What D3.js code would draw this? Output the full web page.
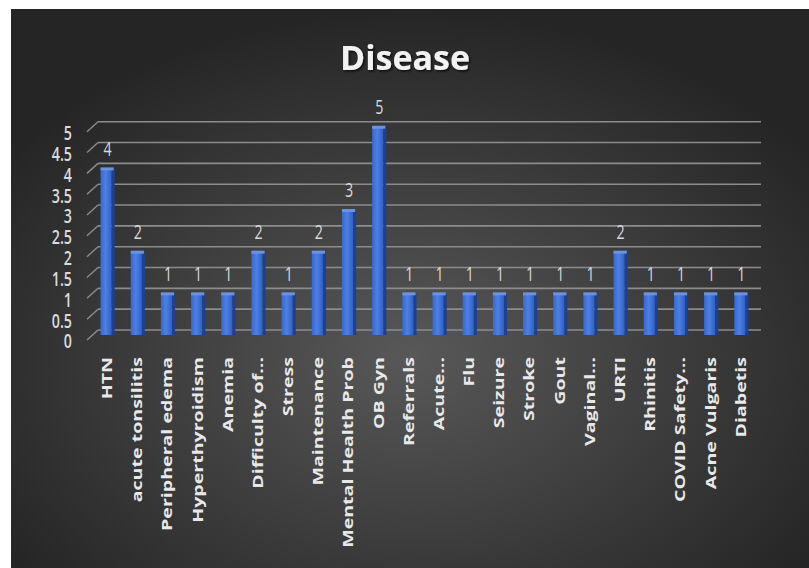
<!DOCTYPE html>
<html>
<head>
<meta charset="utf-8">
<script src="https://cdn.jsdelivr.net/npm/d3@7"></script>
<style>
  body { margin: 0; background: #fff; }
  svg { display: block; }
</style>
</head>
<body>
<svg id="chart"></svg>
<script>
const categories = ['HTN', 'acute tonsilitis', 'Peripheral edema', 'Hyperthyroidism', 'Anemia',
    'Difficulty of…', 'Stress', 'Maintenance', 'Mental Health Prob', 'OB Gyn', 'Referrals',
    'Acute…', 'Flu', 'Seizure', 'Stroke', 'Gout', 'Vaginal…', 'URTI', 'Rhinitis',
    'COVID Safety…', 'Acne Vulgaris', 'Diabetis']
const counts = [4, 2, 1, 1, 1, 2, 1, 2, 3, 5, 1, 1, 1, 1, 1, 1, 1, 2, 1, 1, 1, 1]
const yTicks = [0, 0.5, 1, 1.5, 2, 2.5, 3, 3.5, 4, 4.5, 5]
const title = 'Disease'

const svgWidth = 809
const svgHeight = 568
const depth = { dx: 11, dy: 10 }

const svg = d3.select('#chart')
    .attr('width', svgWidth)
    .attr('height', svgHeight)

const defs = svg.append('defs')

const bg = defs.append('radialGradient')
    .attr('id', 'bg')
    .attr('cx', '50%').attr('cy', '62%').attr('r', '62%')
bg.append('stop').attr('offset', '0%').attr('stop-color', '#585858')
bg.append('stop').attr('offset', '100%').attr('stop-color', '#252525')

const barFront = defs.append('linearGradient')
    .attr('id', 'barFront')
    .attr('x1', '0%').attr('x2', '100%')
barFront.append('stop').attr('offset', '0%').attr('stop-color', '#3668d0')
barFront.append('stop').attr('offset', '45%').attr('stop-color', '#4d80e4')
barFront.append('stop').attr('offset', '100%').attr('stop-color', '#2f5fc4')

const shadow = defs.append('filter').attr('id', 'shadow')
shadow.append('feDropShadow')
    .attr('dx', 1.5).attr('dy', 1.5).attr('stdDeviation', 1.2)
    .attr('flood-color', '#000').attr('flood-opacity', 0.7)

svg.append('rect')
    .attr('x', 11).attr('y', 9)
    .attr('width', svgWidth - 11).attr('height', svgHeight - 9)
    .attr('fill', 'url(#bg)')

// back wall scale (gridlines) and bar scale sit at different depths
const yBack = d3.scaleLinear().domain([0, 5]).range([330, 121.7])
const yBar = d3.scaleLinear().domain([0, 5]).range([335, 126.7])

const x = d3.scaleBand()
    .domain(categories)
    .range([93, 756])
    .paddingInner(0.53)
    .paddingOuter(0.25)

const grid = svg.append('g')
grid.selectAll('line.h')
    .data(yTicks)
    .join('line')
    .attr('class', 'h')
    .attr('x1', 98).attr('x2', 761)
    .attr('y1', d => yBack(d)).attr('y2', d => yBack(d))
    .attr('stroke', '#8c8c8c')
    .attr('stroke-width', 1.6)
grid.selectAll('line.d')
    .data(yTicks)
    .join('line')
    .attr('class', 'd')
    .attr('x1', 98 - depth.dx).attr('x2', 98)
    .attr('y1', d => yBack(d) + depth.dy).attr('y2', d => yBack(d))
    .attr('stroke', '#8c8c8c')
    .attr('stroke-width', 1.4)

const numFont = '"Open Sans", sans-serif'

svg.append('g')
    .selectAll('text')
    .data(yTicks)
    .join('text')
    .attr('transform', d => `translate(72, ${yBack(d) + depth.dy + 1}) scale(0.95, 1.3)`)
    .attr('text-anchor', 'end')
    .attr('dominant-baseline', 'central')
    .attr('fill', '#dadada')
    .style('font-family', numFont)
    .style('font-weight', 600)
    .style('font-size', '15px')
    .text(d => d)

const data = categories.map((c, i) => ({ name: c, value: counts[i] }))
const side = 3
const bars = svg.append('g')
    .selectAll('g')
    .data(data)
    .join('g')
    .attr('transform', d => `translate(${x(d.name)}, 0)`)

bars.append('rect')
    .attr('x', 0)
    .attr('y', d => yBar(d.value))
    .attr('width', x.bandwidth() - side)
    .attr('height', d => yBar(0) - yBar(d.value))
    .attr('fill', 'url(#barFront)')
bars.append('rect')
    .attr('x', x.bandwidth() - side)
    .attr('y', d => yBar(d.value) + 1)
    .attr('width', side)
    .attr('height', d => yBar(0) - yBar(d.value) - 1)
    .attr('fill', '#1e418f')
bars.append('rect')
    .attr('x', 0)
    .attr('y', d => yBar(d.value) - 1)
    .attr('width', x.bandwidth() - 1)
    .attr('height', 3)
    .attr('fill', '#6b93e3')

svg.append('g')
    .selectAll('text')
    .data(data)
    .join('text')
    .attr('transform', d => `translate(${x(d.name) + x.bandwidth() / 2}, ${yBar(d.value) - 20}) scale(0.95, 1.3)`)
    .attr('text-anchor', 'middle')
    .attr('dominant-baseline', 'central')
    .attr('fill', '#d9d9d9')
    .style('font-family', numFont)
    .style('font-size', '15px')
    .text(d => d.value)

svg.append('g')
    .selectAll('text')
    .data(data)
    .join('text')
    .attr('transform', d => `translate(${x(d.name) + x.bandwidth() / 2 - 1}, 357) rotate(-90) scale(1.4, 1)`)
    .attr('text-anchor', 'end')
    .attr('dominant-baseline', 'central')
    .attr('fill', '#e8e8e8')
    .style('font-family', '"Open Sans", sans-serif')
    .style('font-weight', 700)
    .style('font-size', '14px')
    .text(d => d.name)

svg.append('text')
    .attr('x', 405)
    .attr('y', 70)
    .attr('text-anchor', 'middle')
    .attr('fill', '#f2f2f2')
    .attr('filter', 'url(#shadow)')
    .style('font-family', '"Open Sans", sans-serif')
    .style('font-weight', 700)
    .style('font-size', '34px')
    .text(title)
</script>
</body>
</html>
